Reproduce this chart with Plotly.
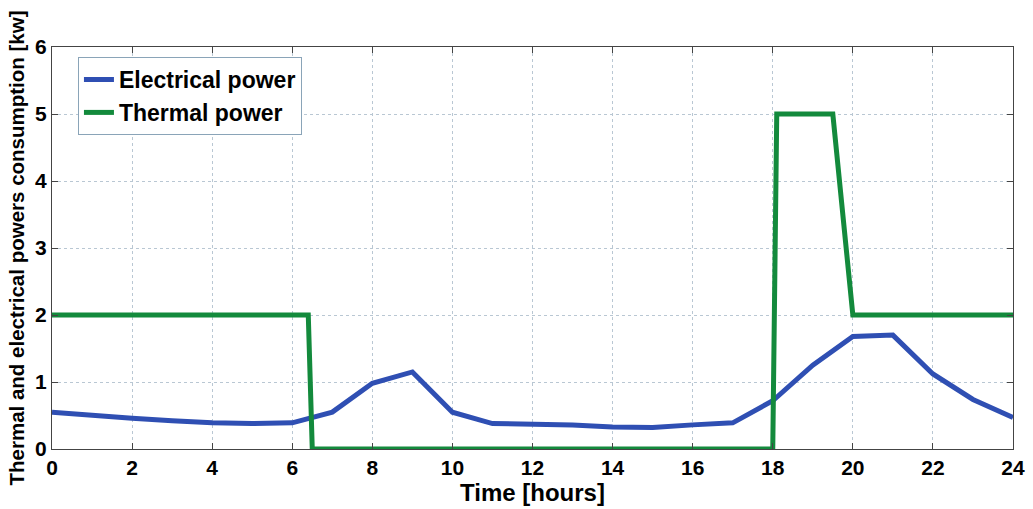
import plotly.graph_objects as go

hours = list(range(0, 25))
electrical = [0.55, 0.50, 0.46, 0.42, 0.39, 0.38, 0.39, 0.55, 0.98, 1.15, 0.55, 0.38,
              0.37, 0.36, 0.33, 0.32, 0.36, 0.39, 0.72, 1.25, 1.68, 1.70, 1.12, 0.74, 0.47]

thermal_t = [0, 6.4, 6.5, 18.0, 18.1, 19.5, 20.0, 24]
thermal = [2, 2, 0, 0, 5, 5, 2, 2]

x_ticks = list(range(0, 25, 2))
y_ticks = list(range(0, 7))

BLUE = "#2f4fb3"
GREEN = "#138a3c"

fig = go.Figure()
fig.add_trace(go.Scatter(x=hours, y=electrical, mode="lines", name="Electrical power",
                         line=dict(color=BLUE, width=5)))
fig.add_trace(go.Scatter(x=thermal_t, y=thermal, mode="lines", name="Thermal power",
                         line=dict(color=GREEN, width=5)))

axis_common = dict(showline=True, linecolor="#444", linewidth=1, mirror="ticks",
                   ticks="inside", ticklen=6, tickcolor="#444",
                   showgrid=True, gridcolor="#b9c7d3", griddash="dot", gridwidth=1,
                   zeroline=False, automargin=False,
                   tickfont=dict(family="Liberation Sans, Arial", size=21, color="black"))

fig.update_layout(
    width=1033, height=509,
    margin=dict(l=52, r=20, t=47, b=60),
    paper_bgcolor="white", plot_bgcolor="white",
    font=dict(family="Liberation Sans, Arial", color="black"),
    showlegend=True,
    legend=dict(x=0.027, y=0.975, xanchor="left", yanchor="top",
                bgcolor="white", bordercolor="#8aa4b8", borderwidth=1,
                font=dict(size=23, family="Liberation Sans, Arial", weight="bold"),
                itemwidth=30, tracegroupgap=0),
    xaxis=dict(range=[0, 24], tickvals=x_ticks, ticktext=[f"<b>{v}</b>" for v in x_ticks],
               title=dict(text="<b>Time [hours]</b>", font=dict(size=24), standoff=0),
               **axis_common),
    yaxis=dict(range=[0, 6], tickvals=y_ticks, ticktext=[f"<b>{v}</b>" for v in y_ticks],
               title=dict(text="<b>Thermal and electrical powers consumption [kw]</b>",
                          font=dict(size=20.5), standoff=4),
               **axis_common),
)

fig.write_html("out.html", config={"displayModeBar": False},
               post_script="document.body.style.margin='0';")
